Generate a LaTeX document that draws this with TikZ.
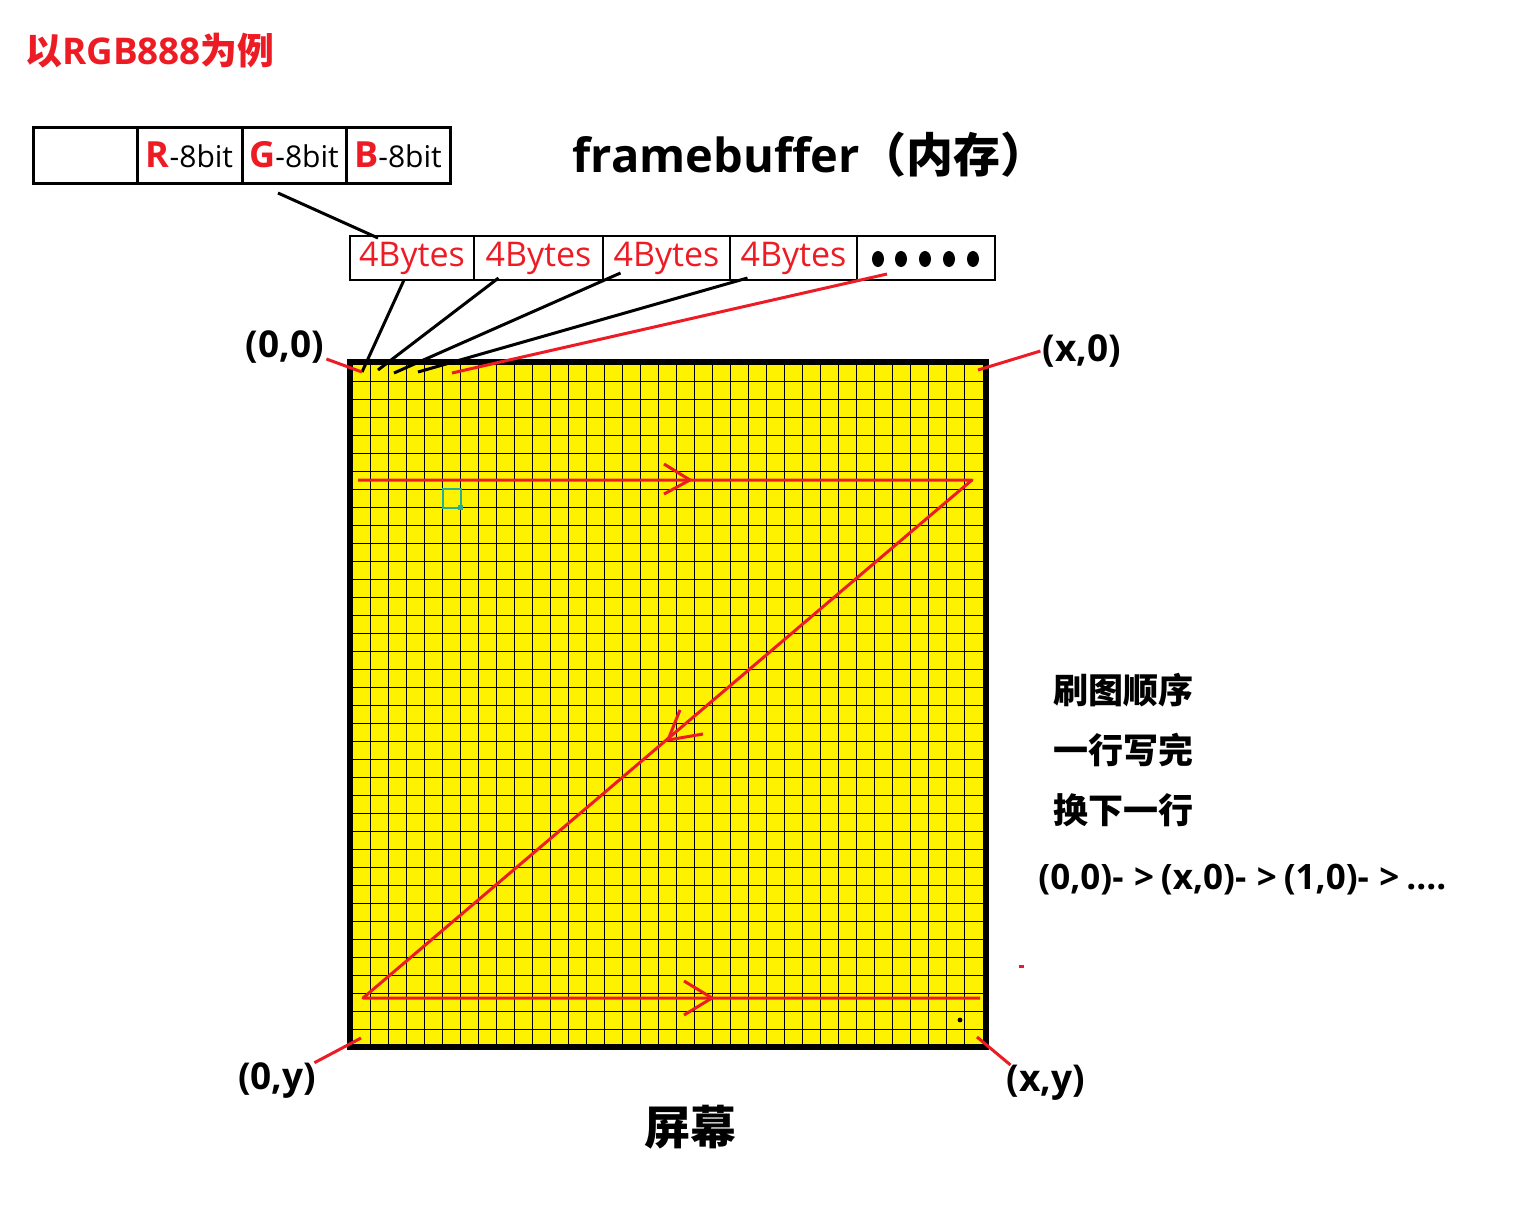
\documentclass[tikz,border=0pt]{standalone}
\usepackage{fontspec}
\setmainfont{Open Sans}
\newfontfamily\cjk{Noto Sans CJK SC}

\definecolor{paintred}{RGB}{237,28,36}
\definecolor{paintteal}{RGB}{34,177,150}
\newcommand{\rgbchan}[1]{{\bfseries\fontsize{18}{18}\selectfont\color{paintred}#1}}
\newcommand{\seqarrow}{-\hspace{0.3em}>\hspace{0.2em}}

\begin{document}
\begin{tikzpicture}[x=0.5pt,y=-0.5pt,
	cellbox/.style={draw, line width=1.5pt, minimum height=28pt, inner sep=0pt, outer sep=0pt, font=\fontsize{15}{15}\selectfont},
	bytebox/.style={draw, line width=1.2pt, minimum height=22pt, inner sep=0pt, outer sep=0pt, text=paintred, font=\fontsize{17}{17}\selectfont},
	lbl/.style={font=\bfseries\fontsize{18.5}{18.5}\selectfont, inner sep=1pt},
	note/.style={font=\bfseries\fontsize{17.5}{17.5}\selectfont, inner sep=1pt},
	redline/.style={paintred, line width=1.5pt},
	link/.style={black, line width=1.5pt},
	gridline/.style={black, line width=0.5pt}
	]
	\useasboundingbox (0,0) rectangle (1528,1212);
	
	% ---- Adjustable colors ----
	\def\screenColor{yellow}
	\def\scanColor{paintred}
	
	% ---- Titles ----
	\node[font=\bfseries\fontsize{18.4}{18.4}\selectfont, text=paintred] (title) at (150,51) {{\cjk 以}RGB888{\cjk 为例}};
	\node[font=\bfseries\fontsize{23.5}{23.5}\selectfont] (fbTitle) at (810,155) {framebuffer{\cjk （内存）}};
	
	% ---- One pixel: R G B bytes ----
	\node[cellbox, minimum width=52pt] (cellX) at (85,155) {};
	\node[cellbox, minimum width=52.5pt] (cellR) at (189.5,155) {\rgbchan{R}-8bit};
	\node[cellbox, minimum width=52pt] (cellG) at (294,155) {\rgbchan{G}-8bit};
	\node[cellbox, minimum width=52pt] (cellB) at (398,155) {\rgbchan{B}-8bit};
	
	% ---- framebuffer row ----
	\foreach \name/\cx/\w in {byteA/412/62pt, byteB/538.5/64.5pt, byteC/666.5/63.5pt, byteD/793.5/63.5pt}
	{
		\node[bytebox, minimum width=\w] (\name) at (\cx,258) {4Bytes};
	}
	\node[bytebox, minimum width=69pt] (byteMore) at (926,258) {};
	\foreach \bx in {878,901,925,949,973}
	\fill (\bx,259) ellipse (3pt and 4pt);
	
	% ---- Screen ----
	\fill[\screenColor] (350,362) rectangle (986,1047);
	\foreach \i in {1,...,34}
	\draw[gridline] ({352.7+18*\i},364) -- ({352.7+18*\i},1045);
	\foreach \j in {1,...,37}
	\draw[gridline] (352,{363.3+18*\j}) -- (984,{363.3+18*\j});
	\draw[line width=3pt] (350,362) rectangle (986,1047);
	\draw[paintteal, line width=1pt] (443,489) rectangle (461,508);
	\fill[paintteal] (458,505) rectangle (463,510);
	\fill (960,1020) circle (1.2pt);
	\draw[redline] (1019,966) -- (1024,966);
	
	% ---- Pixels on the screen ----
	\coordinate (pxA) at (362,372);
	\coordinate (pxB) at (378,370);
	\coordinate (pxC) at (394,373);
	\coordinate (pxD) at (418,372);
	\coordinate (pxE) at (452,373);
	
	% ---- Bytes to pixels ----
	\draw[link] ([xshift=-8pt,yshift=-5pt]cellG.south) -- ([xshift=-17pt,yshift=-1pt]byteA.north);
	\foreach \src/\dx/\dy/\dst/\sty in {byteA/-4/0/pxA/link, byteB/-20/1/pxB/link, byteC/-23/3.5/pxC/link, byteD/-23/1/pxD/link, byteMore/-19.5/3/pxE/redline}
	\draw[\sty] ([xshift=\dx pt,yshift=\dy pt]\src.south) -- (\dst);
	
	% ---- Corner labels ----
	\node[lbl] (lblTL) at (285,347) {(0,0)};
	\node[lbl] (lblTR) at (1082,351) {(x,0)};
	\node[lbl] (lblBL) at (277,1081) {(0,y)};
	\node[lbl] (lblBR) at (1046,1083) {(x,y)};
	\coordinate (cTR) at (978,370);
	\coordinate (cBL) at (361,1038);
	\coordinate (cBR) at (977,1037);
	\draw[redline] ([yshift=-6pt]lblTL.east) -- (pxA);
	\draw[redline] (lblTR.west) -- (cTR);
	\draw[redline] ([xshift=-2pt,yshift=-1pt]lblBL.north east) -- (cBL);
	\draw[redline] ([xshift=3pt,yshift=-1pt]lblBR.north west) -- (cBR);
	
	% ---- Scan order ----
	\coordinate (rowA) at (358,480);
	\coordinate (rowAend) at (972,480);
	\coordinate (rowB) at (363,998);
	\coordinate (rowBend) at (980,998);
	\draw[redline, draw=\scanColor, line join=round] (rowA) -- (rowAend) -- (rowB) -- (rowBend);
	\draw[redline] (664,464) -- (690,480) -- (664,494);
	\draw[redline] (680,710) -- (668,740) -- (703,734);
	\draw[redline] (684,981) -- (712,998) -- (684,1015);
	
	% ---- Notes ----
	\foreach \name/\ty/\txt in {order1/690/刷图顺序, order2/750/一行写完, order3/810/换下一行}
	{
		\node[note, anchor=west] (\name) at (1051,\ty) {\cjk \txt};
	}
	\node[note, anchor=west] (order4) at (1036,880) {(0,0)\seqarrow(x,0)\seqarrow(1,0)\seqarrow....};
	\node[font=\bfseries\fontsize{23}{23}\selectfont] (screenLbl) at (690,1127) {\cjk 屏幕};
	
\end{tikzpicture}
\end{document}
